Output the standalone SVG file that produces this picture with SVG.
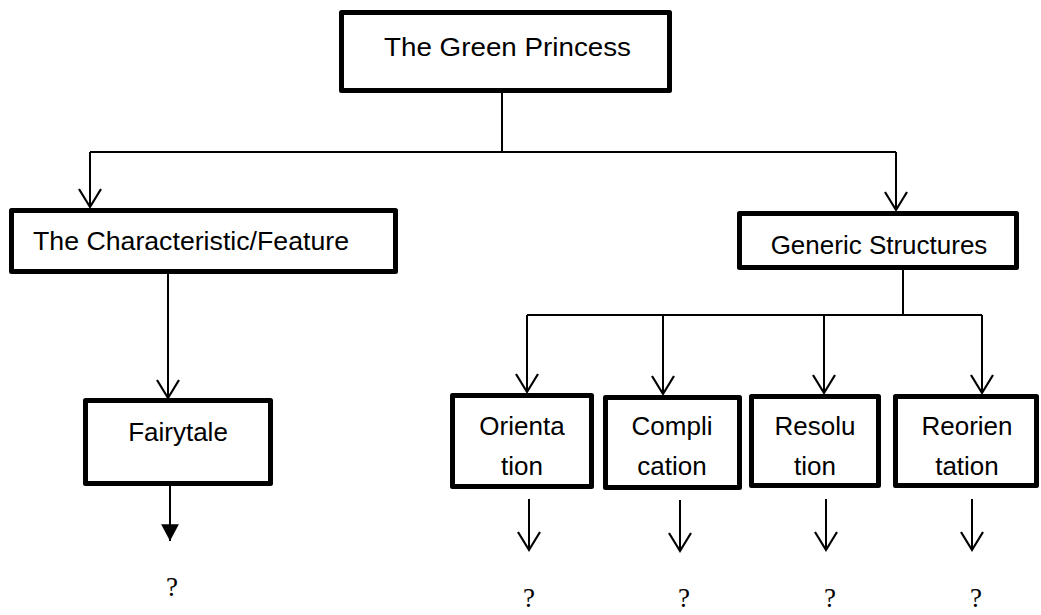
<svg xmlns="http://www.w3.org/2000/svg" width="1041" height="615" viewBox="0 0 1041 615">
  <style>
    .box { fill: #fff; stroke: #000; stroke-width: 5; stroke-linejoin: round; }
    .lbl { font-family: "Liberation Sans", Arial, sans-serif; font-size: 26px; fill: #000; }
    .mid { text-anchor: middle; }
    .q { font-family: "Liberation Serif", "Times New Roman", serif; font-size: 27px; fill: #000; text-anchor: middle; }
    .wire { fill: none; stroke: #000; stroke-width: 2; }
  </style>
  <defs>
    <marker id="vee" markerUnits="userSpaceOnUse" markerWidth="26" markerHeight="26" viewBox="-22 -13 24 26" refX="0" refY="0" orient="auto" overflow="visible">
      <path d="M-18,-11 L0,0 L-18,11" fill="none" stroke="#000" stroke-width="2.2" stroke-linejoin="miter"/>
    </marker>
    <marker id="solid" markerUnits="userSpaceOnUse" markerWidth="20" markerHeight="20" viewBox="-16 -9 17 18" refX="0" refY="0" orient="auto" overflow="visible">
      <path d="M-15,-8 L0,0 L-15,8 Z" fill="#000"/>
    </marker>
  </defs>

  <!-- connectors -->
  <g id="connectors">
    <path class="wire" d="M502,93 V152" stroke-width="1.6"/>
    <path class="wire" d="M90,152 H896"/>
    <path class="wire" d="M90,152 V207" marker-end="url(#vee)"/>
    <path class="wire" d="M896,152 V210" marker-end="url(#vee)"/>
    <path class="wire" d="M168,274 V398" marker-end="url(#vee)"/>
    <path class="wire" d="M170,486 V541" stroke-width="3" marker-end="url(#solid)"/>
    <path class="wire" d="M903,270 V315"/>
    <path class="wire" d="M527,315 H982"/>
    <path class="wire" d="M527,315 V392" marker-end="url(#vee)"/>
    <path class="wire" d="M663,315 V394" marker-end="url(#vee)"/>
    <path class="wire" d="M824,315 V393" marker-end="url(#vee)"/>
    <path class="wire" d="M982,315 V393" marker-end="url(#vee)"/>
    <path class="wire" d="M529,499 V550" marker-end="url(#vee)"/>
    <path class="wire" d="M680,500 V551" marker-end="url(#vee)"/>
    <path class="wire" d="M826,499 V550" marker-end="url(#vee)"/>
    <path class="wire" d="M972,499 V550" marker-end="url(#vee)"/>
  </g>

  <g id="green-princess">
    <rect class="box" x="341.5" y="12.5" width="328" height="78"/>
    <text class="lbl" x="384" y="56" font-size="30" textLength="247" lengthAdjust="spacingAndGlyphs">The Green Princess</text>
  </g>

  <g id="characteristic">
    <rect class="box" x="11.5" y="210.5" width="384" height="61"/>
    <text class="lbl" x="33" y="250" textLength="316" lengthAdjust="spacingAndGlyphs">The Characteristic/Feature</text>
  </g>

  <g id="generic-structures">
    <rect class="box" x="739.5" y="213.5" width="277" height="54"/>
    <text class="lbl mid" x="879" y="254">Generic Structures</text>
  </g>

  <g id="fairytale">
    <rect class="box" x="85.5" y="400.5" width="185" height="83"/>
    <text class="lbl mid" x="178" y="441">Fairytale</text>
  </g>

  <g id="orientation">
    <rect class="box" x="452.5" y="395.5" width="139" height="91"/>
    <text class="lbl mid" x="522" y="435">Orienta</text>
    <text class="lbl mid" x="522" y="475">tion</text>
  </g>

  <g id="complication">
    <rect class="box" x="605.5" y="397.5" width="134" height="90"/>
    <text class="lbl mid" x="672" y="435">Compli</text>
    <text class="lbl mid" x="672" y="475">cation</text>
  </g>

  <g id="resolution">
    <rect class="box" x="751.5" y="396.5" width="127" height="89"/>
    <text class="lbl mid" x="815" y="435">Resolu</text>
    <text class="lbl mid" x="815" y="475">tion</text>
  </g>

  <g id="reorientation">
    <rect class="box" x="895.5" y="396.5" width="141" height="89"/>
    <text class="lbl mid" x="967" y="435">Reorien</text>
    <text class="lbl mid" x="967" y="475">tation</text>
  </g>

  <!-- open outcomes -->
  <g id="outcomes">
    <text class="q" x="172" y="596">?</text>
    <text class="q" x="529" y="607">?</text>
    <text class="q" x="684" y="607">?</text>
    <text class="q" x="830" y="607">?</text>
    <text class="q" x="976" y="607">?</text>
  </g>
</svg>
